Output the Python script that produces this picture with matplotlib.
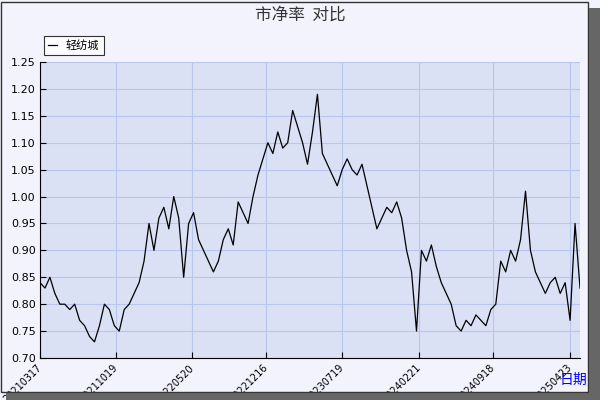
import matplotlib
matplotlib.use("Agg")
import matplotlib.pyplot as plt
import pandas as pd
import matplotlib.patches as mp

plt.rcParams['font.family'] = ['Noto Sans CJK SC', 'DejaVu Sans']

values = [0.84,0.83,0.85,0.82,0.80,0.80,0.79,0.80,0.77,0.76,0.74,0.73,0.76,0.80,0.79,0.76,0.75,0.79,0.80,0.82,
          0.84,0.88,0.95,0.90,0.96,0.98,0.94,1.00,0.96,0.85,0.95,0.97,0.92,0.90,0.88,0.86,0.88,0.92,0.94,0.91,
          0.99,0.97,0.95,1.00,1.04,1.07,1.10,1.08,1.12,1.09,1.10,1.16,1.13,1.10,1.06,1.12,1.19,1.08,1.06,1.04,
          1.02,1.05,1.07,1.05,1.04,1.06,1.02,0.98,0.94,0.96,0.98,0.97,0.99,0.96,0.90,0.86,0.75,0.90,0.88,0.91,
          0.87,0.84,0.82,0.80,0.76,0.75,0.77,0.76,0.78,0.77,0.76,0.79,0.80,0.88,0.86,0.90,0.88,0.92,1.01,0.90,
          0.86,0.84,0.82,0.84,0.85,0.82,0.84,0.77,0.95,0.83]
dates = pd.date_range('2021-03-17', periods=len(values), freq='14D')
tick_labels = ['20210317','20211019','20220520','20221216','20230719','20240221','20240918','20250423']
tick_dates = pd.to_datetime(tick_labels)
yticks = [0.70,0.75,0.80,0.85,0.90,0.95,1.00,1.05,1.10,1.15,1.20,1.25]

fig = plt.figure(figsize=(6,4), dpi=100, facecolor='#f2f3fc')
ax = fig.add_axes([40/600, 42/400, 540/600, 296/400])
ax.set_facecolor('#dae1f5')
ax.plot(dates, values, color='black', lw=0.9, label='轻纺城')
ax.set_xlim(dates[0], dates[-1])
ax.set_ylim(0.70, 1.25)
ax.set_yticks(yticks)
ax.set_yticklabels([f'{v:.2f}' for v in yticks], fontsize=8, family='DejaVu Sans')
ax.set_xticks(tick_dates)
ax.set_xticklabels(tick_labels, rotation=45, fontsize=7, family='DejaVu Sans',
                   ha='right', va='center', rotation_mode='anchor')
ax.grid(True, color='#b8c6ee', lw=0.8)
for s in ['top','right']:
    ax.spines[s].set_visible(False)
ax.tick_params(length=4, direction='in', pad=3)
ax.tick_params(axis='x', pad=6)
fig.text(0.5, 0.962, '市净率  对比', ha='center', va='center', fontsize=12, color='#333333')
fig.text(0.955, 0.05, '日期', ha='center', va='center', fontsize=10, color='blue')
leg = fig.legend(loc='upper left', bbox_to_anchor=(38/600, 1-30/400), fontsize=8, frameon=True,
                 fancybox=False, edgecolor='black', handlelength=0.8)
leg.get_frame().set_linewidth(0.8)
fig.patches.append(mp.Rectangle((0.002,0.02),0.978,0.975, transform=fig.transFigure, fill=False, ec='#333333', lw=1))
fig.patches.append(mp.Rectangle((0.982,0.0),0.018,0.98, transform=fig.transFigure, fc='#666666', ec='none'))
fig.patches.append(mp.Rectangle((0.01,0.0),0.99,0.018, transform=fig.transFigure, fc='#666666', ec='none'))
fig.savefig('out.png', dpi=100, facecolor=fig.get_facecolor())
